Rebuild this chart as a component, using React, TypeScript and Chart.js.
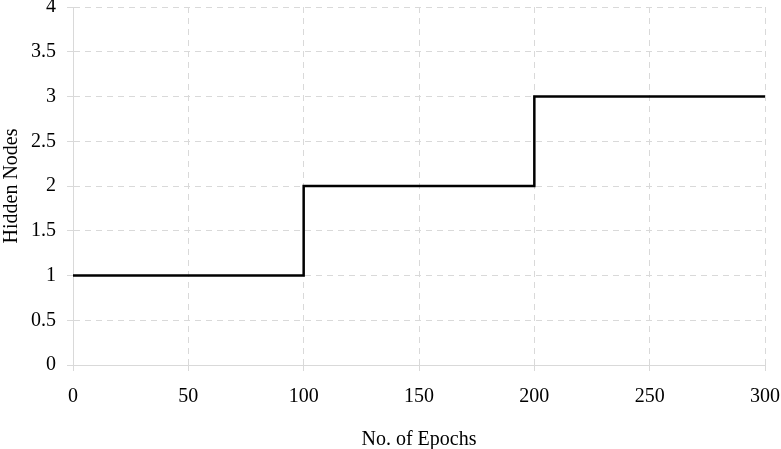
import React, { useEffect, useRef } from "react";
import { Chart, registerables } from "chart.js";
Chart.register(...registerables);

const epochs = [0, 100, 100, 200, 200, 300];
const hiddenNodes = [1, 1, 2, 2, 3, 3];
const xTicks = [0, 50, 100, 150, 200, 250, 300];
const yTicks = [0, 0.5, 1, 1.5, 2, 2.5, 3, 3.5, 4];

export default function App() {
  const ref = useRef<HTMLCanvasElement>(null);
  useEffect(() => {
    const font = { family: "'Liberation Serif', 'Times New Roman', serif", size: 20 };
    const chart = new Chart(ref.current!, {
      type: "line",
      data: {
        datasets: [
          {
            data: epochs.map((x, i) => ({ x, y: hiddenNodes[i] })),
            borderColor: "#000",
            borderWidth: 2.5,
            pointRadius: 0,
            tension: 0,
            fill: false,
          },
        ],
      },
      options: {
        animation: false,
        responsive: false,
        layout: { padding: { left: 0, right: 16, top: 7, bottom: 0 } },
        plugins: { legend: { display: false }, tooltip: { enabled: false } },
        scales: {
          x: {
            type: "linear",
            min: 0,
            max: 300,
            afterBuildTicks: (s: any) => { s.ticks = xTicks.map((v) => ({ value: v })); },
            afterFit: (s: any) => { s.height = 84; s.paddingLeft = 0; s.paddingRight = 0; },
            ticks: { color: "#000", font, padding: 14, maxRotation: 0, callback: (v: any) => String(v) },
            grid: { color: "#d9d9d9", tickLength: 6, lineWidth: 1, tickBorderDash: [] },
            border: { display: true, color: "#d9d9d9", dash: [6, 5] },
            title: { display: true, text: "No. of Epochs", color: "#000", font, padding: { top: 0, bottom: -3 } },
          },
          y: {
            type: "linear",
            min: 0,
            max: 4,
            afterBuildTicks: (s: any) => { s.ticks = yTicks.map((v) => ({ value: v })); },
            afterFit: (s: any) => { s.width = 73; s.paddingTop = 0; s.paddingBottom = 0; },
            ticks: { color: "#000", font, padding: 11, callback: (v: any) => String(v) },
            grid: { color: "#d9d9d9", tickLength: 6, lineWidth: 1, tickBorderDash: [] },
            border: { display: true, color: "#d9d9d9", dash: [6, 5] },
            title: { display: true, text: "Hidden Nodes", color: "#000", font, padding: { top: 0, bottom: 0 } },
          },
        },
      },
    } as any);
    return () => chart.destroy();
  }, []);
  return (
    <div style={{ position: "absolute", left: 0, top: 0, width: 781, height: 449, background: "#fff" }}>
      <canvas ref={ref} width={781} height={449} style={{ width: 781, height: 449, display: "block" }} />
    </div>
  );
}
